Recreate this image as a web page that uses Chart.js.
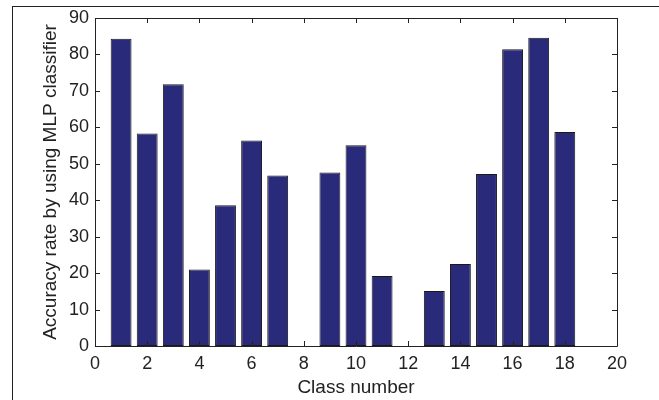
<!DOCTYPE html>
<html>
<head>
<meta charset="utf-8">
<script src="https://cdn.jsdelivr.net/npm/chart.js@4"></script>
<style>
  html, body { margin: 0; padding: 0; background: #fff; }
  #wrap { position: relative; width: 659px; height: 400px; }
  #frame { position: absolute; left: 12px; top: 6px; right: -5px; bottom: -5px; border-left: 1.5px solid #222; border-top: 1.5px solid #222; }
  canvas { position: absolute; left: 0; top: 0; }
</style>
</head>
<body>
<div id="wrap">
  <div id="frame"></div>
  <canvas id="c" width="659" height="400"></canvas>
</div>
<script>
const classNumbers = [1, 2, 3, 4, 5, 6, 7, 8, 9, 10, 11, 12, 13, 14, 15, 16, 17, 18];
const accuracy = [84.3, 58.3, 71.8, 21.0, 38.6, 56.4, 46.8, 0, 47.6, 55.1, 19.2, 0, 15.1, 22.5, 47.2, 81.4, 84.6, 58.7];
const xTicks = [0, 2, 4, 6, 8, 10, 12, 14, 16, 18, 20];
const yTicks = [0, 10, 20, 30, 40, 50, 60, 70, 80, 90];
const xTitle = 'Class number';
const yTitle = 'Accuracy rate by using MLP classifier';

const FONT = 'Liberation Sans, Arial, Helvetica, sans-serif';
const TXT = '#222';

const boxTicks = {
  id: 'boxTicks',
  afterDraw(chart) {
    const ctx = chart.ctx;
    const a = chart.chartArea;
    const xs = chart.scales.x, ys = chart.scales.y;
    const L = 5;
    ctx.save();
    ctx.strokeStyle = '#222';
    ctx.lineWidth = 1;
    ctx.beginPath();
    ctx.rect(Math.round(a.left) + 0.5, Math.round(a.top) + 0.5, Math.round(a.right - a.left), Math.round(a.bottom - a.top));
    xTicks.forEach(v => {
      const px = Math.round(xs.getPixelForValue(v)) + 0.5;
      ctx.moveTo(px, a.bottom); ctx.lineTo(px, a.bottom - L);
      ctx.moveTo(px, a.top); ctx.lineTo(px, a.top + L);
    });
    yTicks.forEach(v => {
      const py = Math.round(ys.getPixelForValue(v)) + 0.5;
      ctx.moveTo(a.left, py); ctx.lineTo(a.left + L, py);
      ctx.moveTo(a.right, py); ctx.lineTo(a.right - L, py);
    });
    ctx.stroke();
    ctx.restore();
  }
};

new Chart(document.getElementById('c'), {
  type: 'bar',
  data: {
    datasets: [{
      data: classNumbers.map((x, i) => ({ x: x, y: accuracy[i] })),
      backgroundColor: '#2a2a7b',
      borderColor: '#1a1a1a',
      borderWidth: 1,
      borderSkipped: false,
      barPercentage: 0.8,
      categoryPercentage: 1.0
    }]
  },
  options: {
    responsive: false,
    animation: false,
    devicePixelRatio: 1,
    layout: { padding: { top: 18, right: 42, left: 0, bottom: 0 } },
    plugins: { legend: { display: false }, tooltip: { enabled: false } },
    scales: {
      x: {
        type: 'linear',
        min: 0, max: 20,
        offset: false,
        afterBuildTicks: s => { s.ticks = xTicks.map(v => ({ value: v })); },
        afterFit: s => { s.height = 54; },
        grid: { display: false, drawTicks: false, offset: false },
        border: { display: false },
        ticks: { color: TXT, font: { family: FONT, size: 18 }, padding: 7, maxRotation: 0 },
        title: { display: true, text: xTitle, color: TXT, font: { family: FONT, size: 19 }, padding: { top: 0, bottom: 1 } }
      },
      y: {
        min: 0, max: 90,
        afterBuildTicks: s => { s.ticks = yTicks.map(v => ({ value: v })); },
        afterFit: s => { s.width = 95; },
        grid: { display: false, drawTicks: false },
        border: { display: false },
        ticks: { color: TXT, font: { family: FONT, size: 18 }, padding: 6 },
        title: { display: true, text: yTitle, color: TXT, font: { family: FONT, size: 19 }, padding: { top: 39, bottom: 0 } }
      }
    }
  },
  plugins: [boxTicks]
});
</script>
</body>
</html>
